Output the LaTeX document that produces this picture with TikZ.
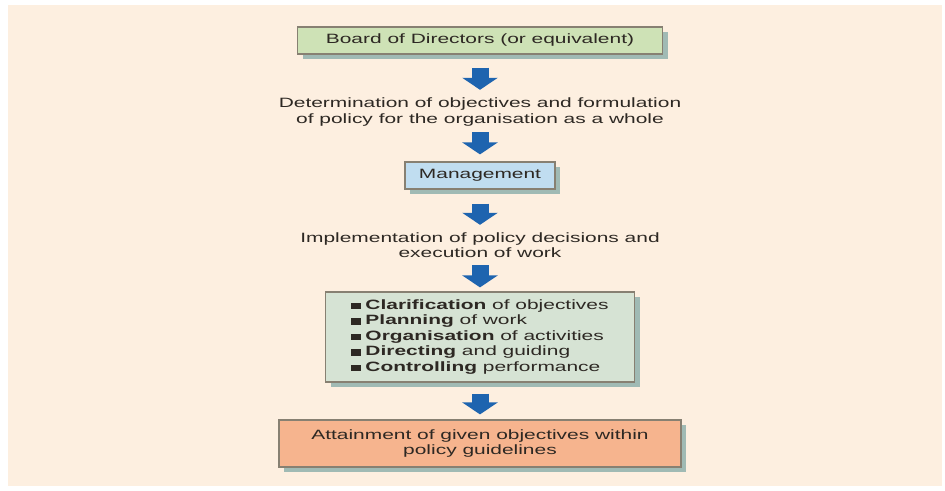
\documentclass[tikz,border=0pt]{standalone}
\usepackage{fontspec}
\setmainfont{Liberation Sans}[FakeStretch=1.55]
\usetikzlibrary{arrows.meta,shadows}

\definecolor{creamc}{RGB}{253,239,224}
\definecolor{boardc}{RGB}{206,226,182}
\definecolor{mgmtc}{RGB}{192,221,240}
\definecolor{listc}{RGB}{214,227,212}
\definecolor{attainc}{RGB}{246,180,142}
\definecolor{edgec}{RGB}{135,128,114}
\definecolor{shadowc}{RGB}{160,186,180}
\definecolor{arrowc}{RGB}{30,100,175}
\definecolor{textc}{RGB}{45,40,35}
\newcommand{\sq}{\rule[0.3pt]{10pt}{6.5pt}\hspace{4pt}}

\begin{document}
\begin{tikzpicture}[x=1pt,y=-1pt,
  every node/.style={font=\fontsize{13.5}{15.5}\selectfont, text=textc},
  box/.style={draw=edgec, line width=1.2pt, minimum height=27pt, inner sep=0pt,
    drop shadow={shadow xshift=5pt, shadow yshift=-5pt, fill=shadowc, opacity=1}},
  words/.style={align=center, inner sep=0pt, minimum height=36pt},
  down/.style={draw=arrowc, line width=17pt, -{Triangle[length=12pt,width=35pt]}}]
\useasboundingbox (0,0) rectangle (945,490);
\fill[creamc] (8,5) rectangle (942,486);

% boxes and texts
\node[box, fill=boardc, minimum width=365pt] (board) at (480,40.5) {Board of Directors (or equivalent)};
\node[words] (setting) at (480,112) {Determination of objectives and formulation\\of policy for the organisation as a whole};
\node[box, fill=mgmtc, minimum width=150pt] (mgmt) at (480,175.5) {Management};
\node[words] (doing) at (480,245) {Implementation of policy decisions and\\execution of work};
\node[box, fill=listc, minimum width=309pt, minimum height=90pt, align=left] (tasks) at (480,337)
  {\sq\textbf{Clarification} of objectives\\
   \sq\textbf{Planning} of work\\
   \sq\textbf{Organisation} of activities\\
   \sq\textbf{Directing} and guiding\\
   \sq\textbf{Controlling} performance};
\node[box, fill=attainc, minimum width=402pt, minimum height=47pt, align=center] (goal) at (480,443.5)
  {Attainment of given objectives within\\policy guidelines};

% block arrows
\draw[down, shorten <=13pt, shorten >=4pt] (board) -- (setting);
\draw[down, shorten <=2pt, shorten >=7pt] (setting) -- (mgmt);
\draw[down, shorten <=14pt, shorten >=2pt] (mgmt) -- (doing);
\draw[down, shorten <=2pt, shorten >=4pt] (doing) -- (tasks);
\draw[down, shorten <=11pt, shorten >=5pt] (tasks) -- (goal);
\end{tikzpicture}
\end{document}
